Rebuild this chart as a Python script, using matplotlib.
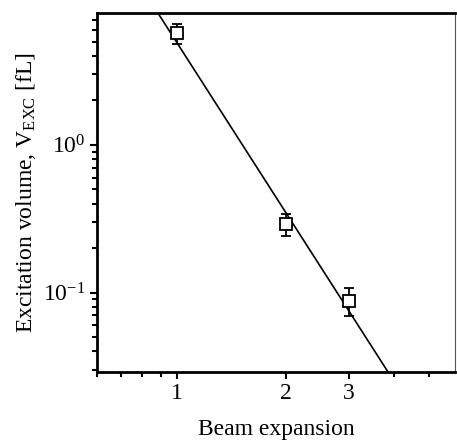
import numpy as np
import matplotlib
matplotlib.use('Agg')
import matplotlib.pyplot as plt
from matplotlib.ticker import LogLocator, NullFormatter, FixedLocator

plt.rcParams['font.family'] = ['Liberation Serif', 'DejaVu Serif']
plt.rcParams['mathtext.fontset'] = 'custom'
plt.rcParams['mathtext.rm'] = 'Liberation Serif'
plt.rcParams['mathtext.it'] = 'Liberation Serif:italic'
plt.rcParams['axes.unicode_minus'] = False

# measured points
expansion = [1, 2, 3]
volume = [5.7, 0.29, 0.088]
volume_err = [0.9, 0.048, 0.019]

fit_x = [0.85, 4.0]
fit_y = [9.1, 0.025]

x_ticks = [1, 2, 3]
x_minor = [0.6, 0.7, 0.8, 0.9, 4, 5]

fig = plt.figure(figsize=(4.57, 4.41), dpi=100)
ax = fig.add_axes([0.2123, 0.1565, 0.7833, 0.814])

ax.plot(fit_x, fit_y, color='black', linewidth=1.2, zorder=2)
ax.errorbar(expansion, volume, yerr=volume_err, fmt='s', markersize=9,
            markerfacecolor='white', markeredgecolor='black', markeredgewidth=1.3,
            ecolor='black', elinewidth=1.3, capsize=3.8, capthick=1.3, zorder=3)

ax.set_xscale('log')
ax.set_yscale('log')
ax.set_xlim(0.6, 5.9)
ax.set_ylim(0.029, 7.8)

ax.xaxis.set_major_locator(FixedLocator(x_ticks))
ax.xaxis.set_minor_locator(FixedLocator(x_minor))
ax.set_xticklabels([str(t) for t in x_ticks])
ax.xaxis.set_minor_formatter(NullFormatter())
ax.yaxis.set_major_locator(LogLocator(base=10))
ax.yaxis.set_minor_locator(LogLocator(base=10, subs=np.arange(2, 10)))
ax.yaxis.set_minor_formatter(NullFormatter())

ax.tick_params(which='both', direction='out', top=False, right=False,
               labelsize=17, width=1.5, color='black')
ax.tick_params(which='major', length=5, pad=3)
ax.tick_params(which='minor', length=3.5)

for side in ['left', 'top', 'bottom']:
    ax.spines[side].set_linewidth(2)
ax.spines['right'].set_linewidth(0.8)
ax.spines['right'].set_color('#555555')

ax.set_xlabel('Beam expansion', fontsize=17, labelpad=11)
ax.set_ylabel(r'Excitation volume, V$_{\mathrm{EXC}}$ [fL]', fontsize=17, labelpad=4)

fig.savefig('out.png', dpi=100)
